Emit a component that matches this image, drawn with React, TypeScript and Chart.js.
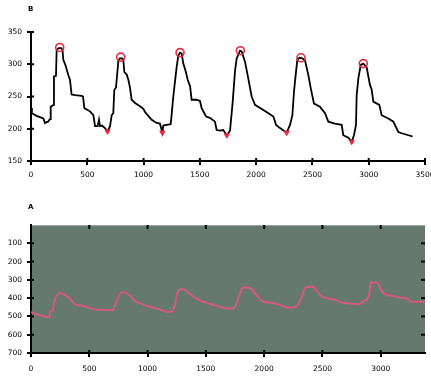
import React, { useEffect, useRef } from "react";
import { Chart, registerables } from "chart.js";

Chart.register(...registerables);

// ---- Panel B (top) ----
const bX = [0, 8, 50, 110, 124, 151, 169, 175, 200, 204, 222, 228, 245, 270, 280, 287, 307, 332, 346, 361, 391, 450, 462, 474, 524, 554, 569, 592, 604, 613, 630, 657, 680, 702, 717, 731, 740, 755, 776, 790, 810, 820, 829, 850, 865, 880, 894, 924, 968, 998, 1013, 1042, 1072, 1116, 1145, 1167, 1175, 1205, 1241, 1250, 1264, 1279, 1294, 1309, 1324, 1338, 1353, 1373, 1392, 1413, 1427, 1471, 1501, 1516, 1555, 1590, 1634, 1649, 1679, 1708, 1738, 1768, 1792, 1812, 1827, 1857, 1871, 1901, 1930, 1960, 1990, 2064, 2109, 2153, 2177, 2212, 2271, 2301, 2322, 2336, 2351, 2366, 2385, 2410, 2434, 2464, 2485, 2514, 2567, 2612, 2641, 2700, 2760, 2774, 2819, 2849, 2869, 2887, 2893, 2908, 2929, 2952, 2982, 3011, 3026, 3041, 3094, 3115, 3174, 3219, 3263, 3293, 3390];
const bY = [232, 224, 220, 216, 209, 211, 215, 234, 237, 281, 282, 322, 325, 325, 322, 307, 298, 283, 276, 253, 252, 251, 250, 232, 227, 221, 204, 204, 214, 204, 205, 201, 196, 204, 221, 224, 260, 264, 305, 309, 309, 307, 288, 284, 276, 263, 245, 240, 235, 231, 226, 220, 214, 209, 208, 194, 205, 206, 207, 223, 250, 273, 296, 314, 318, 317, 301, 290, 276, 266, 245, 245, 243, 232, 219, 217, 211, 198, 197, 198, 190, 197, 242, 289, 309, 321, 320, 304, 278, 250, 237, 229, 224, 219, 206, 201, 194, 206, 221, 257, 283, 307, 310, 309, 306, 283, 263, 239, 234, 224, 211, 208, 206, 190, 186, 180, 190, 206, 252, 278, 299, 301, 295, 268, 261, 242, 237, 221, 216, 211, 195, 193, 188];
const peakX = [255, 797, 1324, 1860, 2398, 2952];
const peakY = [326, 311, 318, 321, 310, 301];
const troughX = [680, 1167, 1740, 2271, 2849];
const troughY = [196, 194, 190, 194, 180];
const bXTicks = [0, 500, 1000, 1500, 2000, 2500, 3000, 3500];
const bYTicks = [150, 200, 250, 300, 350];

// ---- Panel A (bottom) ----
const aX = [0, 49, 106, 157, 163, 186, 200, 214, 234, 255, 292, 334, 377, 449, 534, 620, 706, 720, 740, 757, 786, 815, 855, 892, 935, 1000, 1043, 1106, 1178, 1206, 1235, 1255, 1278, 1307, 1341, 1369, 1421, 1478, 1540, 1621, 1664, 1730, 1764, 1792, 1821, 1864, 1893, 1936, 1992, 2064, 2135, 2207, 2250, 2293, 2321, 2356, 2421, 2444, 2493, 2550, 2622, 2664, 2736, 2816, 2844, 2893, 2907, 2913, 2936, 2970, 2999, 3036, 3093, 3165, 3222, 3273, 3379];
const aY = [475, 489, 498, 505, 475, 464, 420, 396, 378, 371, 384, 402, 433, 443, 460, 465, 465, 438, 411, 384, 367, 371, 389, 416, 429, 443, 451, 462, 476, 474, 438, 374, 352, 351, 366, 380, 402, 420, 432, 447, 456, 456, 429, 374, 342, 342, 352, 384, 420, 425, 438, 451, 451, 433, 393, 342, 338, 356, 389, 402, 411, 424, 429, 433, 420, 396, 356, 316, 316, 314, 352, 378, 387, 396, 402, 420, 420];
const aXTicks = [0, 500, 1000, 1500, 2000, 2500, 3000];
const aYTicks = [0, 100, 200, 300, 400, 500, 600, 700];

const FONT = { family: "DejaVu Sans", size: 7.5 };

function pts(xs: number[], ys: number[]) {
  return xs.map((x, i) => ({ x, y: ys[i] }));
}

function line(ctx: CanvasRenderingContext2D, x1: number, y1: number, x2: number, y2: number) {
  ctx.beginPath();
  ctx.moveTo(x1, y1);
  ctx.lineTo(x2, y2);
  ctx.stroke();
}

function makeDecor(title: string, titleY: number, bg: string | null, full: boolean) {
  return {
    id: "decor" + title,
    beforeDraw(chart: any) {
      if (!bg) return;
      const a = chart.chartArea;
      const ctx = chart.ctx;
      ctx.save();
      ctx.fillStyle = bg;
      ctx.fillRect(a.left, a.top, a.right - a.left, a.bottom - a.top);
      ctx.strokeStyle = "#9aa59e";
      ctx.lineWidth = 1;
      line(ctx, a.left, a.top + 0.5, a.right, a.top + 0.5);
      ctx.restore();
    },
    afterDraw(chart: any) {
      const a = chart.chartArea;
      const ctx = chart.ctx;
      const xs = chart.scales.x;
      const ys = chart.scales.y;
      ctx.save();
      ctx.strokeStyle = "#000";
      ctx.lineWidth = 2;
      xs.ticks.forEach((t: any) => {
        const px = xs.getPixelForValue(t.value);
        line(ctx, px, a.bottom, px, a.bottom - 3);
        if (full && t.value > 0) line(ctx, px, a.top, px, a.top + 4);
      });
      ys.ticks.forEach((t: any) => {
        const py = ys.getPixelForValue(t.value);
        if (full && (t.value === 0 || t.value === 700)) return;
        line(ctx, a.left, py, a.left + 3, py);
        if (full) line(ctx, a.right, py, a.right - 4, py);
      });
      ctx.fillStyle = "#000";
      ctx.font = "bold 7px 'DejaVu Sans'";
      ctx.textBaseline = "middle";
      ctx.textAlign = "left";
      ctx.fillText(title, a.left - 3, titleY);
      ctx.restore();
    },
  };
}

function axisCommon(ticksList: number[], hideZero: boolean, pad: number) {
  return {
    type: "linear",
    grid: {
      display: true,
      drawOnChartArea: false,
      drawTicks: true,
      tickLength: 4,
      lineWidth: 2,
      color: (c: any) => (hideZero && c.tick && c.tick.value === 0 ? "rgba(0,0,0,0)" : "#000"),
    },
    border: { display: true, color: "#000", width: 2 },
    afterBuildTicks: (s: any) => {
      s.ticks = ticksList.map((v) => ({ value: v }));
    },
    ticks: {
      font: FONT,
      color: "#000",
      padding: pad,
      autoSkip: false,
      maxRotation: 0,
      callback: (v: any) => (hideZero && v === 0 ? "" : String(v)),
    },
  };
}

export default function App() {
  const topRef = useRef<HTMLCanvasElement>(null);
  const botRef = useRef<HTMLCanvasElement>(null);

  useEffect(() => {
    const top = new Chart(topRef.current as HTMLCanvasElement, {
      type: "scatter",
      data: {
        datasets: [
          {
            data: pts(peakX, peakY),
            pointStyle: "circle",
            pointRadius: 4,
            pointBorderWidth: 1.6,
            pointBorderColor: "#e8283c",
            pointBackgroundColor: "rgba(0,0,0,0)",
            showLine: false,
            order: 0,
          },
          {
            data: pts(troughX, troughY),
            pointStyle: "triangle",
            rotation: 180,
            pointRadius: 3,
            pointBorderWidth: 1,
            pointBorderColor: "#e8283c",
            pointBackgroundColor: "#e8283c",
            showLine: false,
            order: 0,
          },
          {
            data: pts(bX, bY),
            showLine: true,
            borderColor: "#000",
            borderWidth: 1.8,
            pointRadius: 0,
            tension: 0,
            order: 1,
          },
        ],
      } as any,
      options: {
        animation: false,
        responsive: false,
        devicePixelRatio: 1,
        layout: { padding: { top: 32, right: 6, left: 0, bottom: 0 } },
        plugins: { legend: { display: false }, tooltip: { enabled: false } },
        scales: {
          x: {
            ...axisCommon(bXTicks, false, 6),
            min: 0,
            max: 3500,
            afterFit: (s: any) => {
              s.height = 27;
              s.paddingLeft = 0;
              s.paddingRight = 0;
            },
          },
          y: {
            ...axisCommon(bYTicks, false, 5),
            min: 150,
            max: 350,
            afterFit: (s: any) => {
              s.width = 31;
              s.paddingTop = 0;
              s.paddingBottom = 0;
            },
          },
        } as any,
      },
      plugins: [makeDecor("B", 9, null, false)],
    });

    const bot = new Chart(botRef.current as HTMLCanvasElement, {
      type: "scatter",
      data: {
        datasets: [
          {
            data: pts(aX, aY),
            showLine: true,
            borderColor: "#d65a7a",
            borderWidth: 2,
            pointRadius: 0,
            tension: 0.3,
            cubicInterpolationMode: "monotone",
          },
        ],
      } as any,
      options: {
        animation: false,
        responsive: false,
        devicePixelRatio: 1,
        layout: { padding: { top: 37, right: 6, left: 0, bottom: 0 } },
        plugins: { legend: { display: false }, tooltip: { enabled: false } },
        scales: {
          x: {
            ...axisCommon(aXTicks, false, 8),
            min: 0,
            max: 3380,
            afterFit: (s: any) => {
              s.height = 24;
              s.paddingLeft = 0;
              s.paddingRight = 0;
            },
          },
          y: {
            ...axisCommon(aYTicks, true, 5),
            min: 0,
            max: 700,
            reverse: true,
            afterFit: (s: any) => {
              s.width = 31;
              s.paddingTop = 0;
              s.paddingBottom = 0;
            },
          },
        } as any,
      },
      plugins: [makeDecor("A", 19, "#66796d", true)],
    });

    return () => {
      top.destroy();
      bot.destroy();
    };
  }, []);

  return (
    <div style={{ position: "absolute", left: 0, top: 0, width: 431, height: 377, background: "#fff" }}>
      <canvas ref={topRef} width={431} height={188} style={{ position: "absolute", left: 0, top: 0 }} />
      <canvas ref={botRef} width={431} height={189} style={{ position: "absolute", left: 0, top: 188 }} />
    </div>
  );
}
